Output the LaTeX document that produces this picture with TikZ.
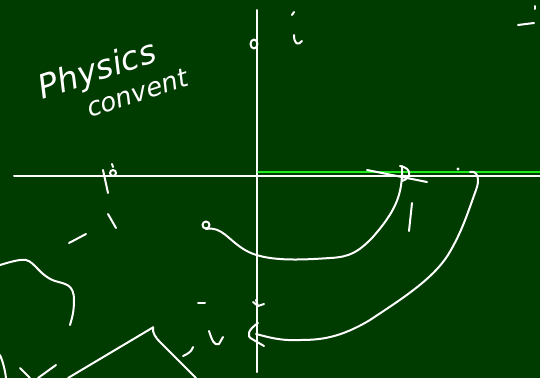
\documentclass[tikz,border=0pt]{standalone}
\usepackage{fontspec}
\setmainfont{DejaVu Sans}
\definecolor{board}{RGB}{0,59,0}
\definecolor{chalkgreen}{RGB}{30,235,30}
\begin{document}
\begin{tikzpicture}[x=1pt,y=-1pt,
  chalk/.style={draw=white,line width=2pt,line cap=round,line join=round},
  gchalk/.style={draw=chalkgreen,line width=2pt,line cap=round},
  hand/.style={text=white,font=\itshape,inner sep=0pt,align=left}]
\fill[board] (0,0) rectangle (540,378);
\useasboundingbox (0,0) rectangle (540,378);
% axes
\coordinate (vtop) at (257,10);
\coordinate (vbot) at (257,372);
\coordinate (hl) at (14,176);
\coordinate (hr) at (540,176);
\draw[chalk] (vtop) -- (vbot);
\draw[chalk] (hl) -- (hr);
\coordinate (g0) at (258,172);
\coordinate (g1) at (540,172);
\draw[gchalk] (g0) -- (g1);
% text
\node[hand,rotate=18,anchor=base west] (title) at (52,130)
  {{\fontsize{33}{35}\selectfont Physics}\\[6pt]
   \hspace*{40pt}{\fontsize{26}{28}\selectfont convent}};
% small marks at top
\draw[chalk] (254,44) ellipse (3.5 and 4.5);
\draw[chalk] (292,15) -- (294,12);
\draw[chalk] (294,35) .. controls (294,44) and (298,46) .. (302,41);
\draw[chalk] (518,25) -- (534,23);
\draw[chalk] (535,6) -- (535,9);
% left marks
\draw[chalk] (113,173) circle (3);
\draw[chalk] (112,164) -- (113,167);
\draw[chalk] (103,170) -- (108,193);
\draw[chalk] (108,214) -- (116,228);
\draw[chalk] (69,243) -- (86,234);
% first curve
\draw[chalk] (206,225) circle (3.5);
\coordinate (c1s) at (206,229);
\coordinate (c1e) at (402,166);
\draw[chalk] (c1s) .. controls (222,226) and (228,240) .. (245,250)
  .. controls (265,262) and (300,260) .. (330,258)
  .. controls (350,257) and (358,252) .. (372,238)
  .. controls (395,212) and (403,195) .. (c1e);
\draw[chalk] (400,166) .. controls (412,168) and (412,178) .. (402,181);
\draw[chalk] (367,170) -- (427,182);
\draw[chalk] (412,203) -- (409,231);
\fill[white] (458,169) circle (1.6);
% second curve with arrow
\coordinate (c2s) at (470,172);
\coordinate (c2e) at (256,334);
\draw[chalk] (c2s) .. controls (478,170) and (480,180) .. (476,190)
  .. controls (468,212) and (462,232) .. (448,255)
  .. controls (432,280) and (400,300) .. (370,320)
  .. controls (340,338) and (320,340) .. (300,340)
  .. controls (280,341) and (268,337) .. (c2e);
\draw[chalk] (258,323) .. controls (248,330) and (246,336) .. (252,339) -- (264,346);
\draw[chalk] (253,302) -- (258,306) -- (264,304);
\draw[chalk] (256,300) -- (258,306);
% lower left scribbles
\draw[chalk] (0,265) .. controls (10,262) and (20,259) .. (26,260)
  .. controls (35,262) and (40,276) .. (55,281)
  .. controls (65,284) and (74,284) .. (74,300)
  .. controls (74,312) and (72,318) .. (70,325);
\draw[chalk] (68,378) -- (152,328);
\draw[chalk] (153,327) .. controls (152,333) and (156,338) .. (160,342) -- (196,378);
\draw[chalk] (20,368) -- (30,378);
\draw[chalk] (56,365) -- (38,378);
\draw[chalk] (0,355) .. controls (3,362) and (5,370) .. (6,378);
\draw[chalk] (183,356) .. controls (188,354) and (192,351) .. (193,347);
\draw[chalk] (209,331) .. controls (212,340) and (214,346) .. (219,344) -- (223,337);
\draw[chalk] (198,303) -- (205,303);
\end{tikzpicture}
\end{document}
